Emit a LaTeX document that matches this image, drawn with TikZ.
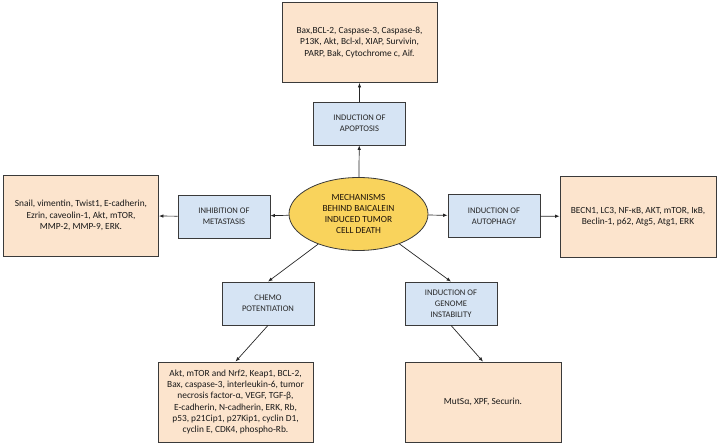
\documentclass[tikz,border=0pt]{standalone}
\usepackage{fontspec}
\setmainfont{Carlito}
\usetikzlibrary{arrows.meta,shapes.geometric}

\begin{document}
\begin{tikzpicture}[x=1bp,y=-1bp]

% Define colors for the boxes
\definecolor{listfill}{HTML}{FCE4CD}
\definecolor{stepfill}{HTML}{D6E4F4}
\definecolor{corefill}{HTML}{F9D35C}
\definecolor{edge}{HTML}{3A3A3A}

\tikzset{
  listbox/.style={draw=edge, line width=0.8pt, fill=listfill, minimum width=155bp, minimum height=80bp, align=center, font=\fontsize{9.4}{11.3}\selectfont, text=black!90},
  stagebox/.style={draw=edge, line width=0.8pt, fill=stepfill, minimum width=92bp, minimum height=43bp, align=center, font=\fontsize{8.6}{10.8}\selectfont, text=black!85},
  link/.style={draw=black!85, line width=0.7pt, -{Latex[length=4.5bp,width=3.5bp]}}
}

\useasboundingbox (0,0) rectangle (719,446);

% Central ellipse
\node[ellipse, draw=edge, line width=0.8pt, fill=corefill, minimum width=139bp, minimum height=73bp, inner sep=0pt, align=center, font=\fontsize{9.4}{11.2}\selectfont, text=black!85!brown] (core) at (358.5,214) {MECHANISMS\\BEHIND BAICALEIN\\INDUCED TUMOR\\CELL DEATH};

% Mechanism boxes
\node[stagebox] (apop) at (359.5,123.5) {INDUCTION OF\\APOPTOSIS};
\node[stagebox] (meta) at (224,216.5) {INHIBITION OF\\METASTASIS};
\node[stagebox] (auto) at (494,216) {INDUCTION OF\\AUTOPHAGY};
\node[stagebox] (chemo) at (268,303.5) {CHEMO\\POTENTIATION};
\node[stagebox] (genome) at (451,303.5) {INDUCTION OF\\GENOME\\INSTABILITY};

% Target lists
\node[listbox] (apopList) at (359.5,42.5) {Bax,BCL-2, Caspase-3, Caspase-8,\\P13K, Akt, Bcl-xl, XIAP, Survivin,\\PARP, Bak, Cytochrome c, Aif.};
\node[listbox, minimum height=81bp] (metaList) at (81,215.5) {Snail, vimentin, Twist1, E-cadherin,\\Ezrin, caveolin-1, Akt, mTOR,\\MMP-2, MMP-9, ERK.};
\node[listbox, minimum width=156bp, minimum height=81bp] (autoList) at (638,216.5) {BECN1, LC3, NF-κB, AKT, mTOR, IκB,\\Beclin-1, p62, Atg5, Atg1, ERK};
\node[listbox] (chemoList) at (235.5,402) {Akt, mTOR and Nrf2, Keap1, BCL-2,\\Bax, caspase-3, interleukin-6, tumor\\necrosis factor-α, VEGF, TGF-β,\\E-cadherin, N-cadherin, ERK, Rb,\\p53, p21Cip1, p27Kip1, cyclin D1,\\cyclin E, CDK4, phospho-Rb.};
\node[listbox, minimum width=156bp] (genomeList) at (483,402) {MutSα, XPF, Securin.};

% Arrows from the centre to each mechanism
\draw[link] (core) -- (apop);
\draw[link] (core) -- (meta);
\draw[link] (core) -- (auto);
\draw[link] (core) -- (chemo.north);
\draw[link] (core) -- (genome.north);

% Arrows from each mechanism to its list
\draw[link] (apop) -- (apopList);
\draw[link] (meta) -- (metaList);
\draw[link] (auto) -- (autoList);
\draw[link] (chemo.south) -- (chemoList.north);
\draw[link] (genome.south) -- (genomeList.north);

\end{tikzpicture}
\end{document}
